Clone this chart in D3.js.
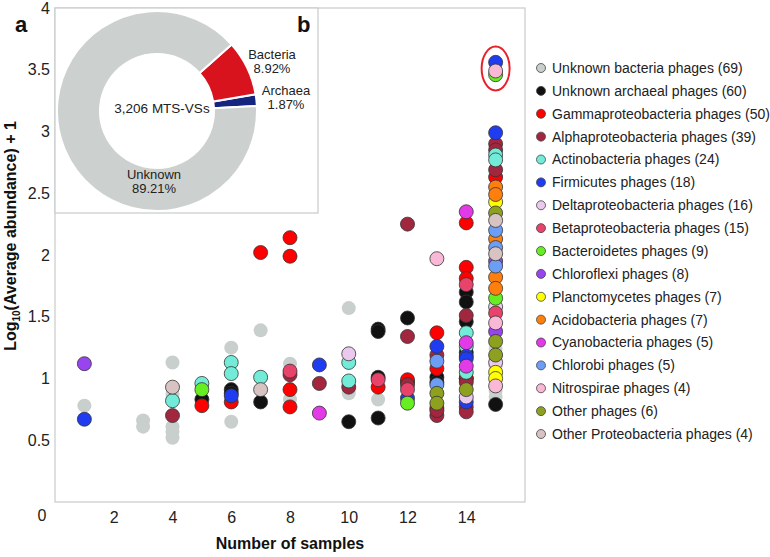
<!DOCTYPE html>
<html><head><meta charset="utf-8">
<script src="https://cdn.jsdelivr.net/npm/d3@7"></script>
<style>
body{margin:0;background:#fff;}
text{font-family:"Liberation Sans",Arial,sans-serif;}
</style></head>
<body><svg id="c" width="770" height="557"></svg>
<script>
// ---------------- data ----------------
const seriesNames = ["Unknown bacteria phages","Unknown archaeal phages","Gammaproteobacteria phages","Alphaproteobacteria phages","Actinobacteria phages","Firmicutes phages","Deltaproteobacteria phages","Betaproteobacteria phages","Bacteroidetes phages","Chloroflexi phages","Planctomycetes phages","Acidobacteria phages","Cyanobacteria phages","Chlorobi phages","Nitrospirae phages","Other phages","Other Proteobacteria phages"];
const seriesCounts = [69,60,50,39,24,18,16,15,9,8,7,7,5,5,4,6,4];
const seriesColors = ["#c9cfcd","#111111","#ff0000","#a3263f","#72ecd8","#1f3cf0","#ebc9ee","#e8436b","#66ee22","#9a44f0","#ffff00","#ff7f0e","#e33ae8","#6d9ef5","#f9b9d6","#8ea020","#d8c3c3"];

const unknownBacteria = [[1,0.78],[3,0.66],[3,0.61],[4,1.13],[4,0.87],[4,0.61],[4,0.57],[4,0.52],[6,1.25],[6,0.65],[7,1.39],[8,1.12],[8,0.83],[10,1.57],[10,0.88],[11,0.83],[12,0.93],[13,0.95],[14,1.05],[15,0.85],[15,0.90],[15,1.10],[15,1.24]];
const unknownArchaeal = [[5,0.83],[6,0.91],[6,0.88],[7,0.81],[10,0.65],[11,1.40],[11,1.38],[11,1.01],[11,0.68],[12,1.49],[12,0.97],[13,1.01],[13,0.97],[14,1.70],[14,1.62],[14,1.46],[14,1.21],[14,1.00],[15,0.79]];
const gammaproteo = [[5,0.78],[6,0.81],[7,2.02],[8,2.14],[8,1.99],[8,0.91],[8,0.77],[11,0.93],[12,0.99],[13,1.37],[13,1.08],[13,0.76],[14,2.26],[14,1.90],[14,1.81],[14,1.00],[15,2.63]];
const alphaproteo = [[4,0.70],[8,1.03],[9,0.96],[10,0.93],[12,2.25],[12,1.34],[12,0.95],[13,1.19],[13,0.70],[13,0.74],[14,1.51],[14,0.97],[14,0.77],[14,0.73],[15,2.90],[15,2.85],[15,2.69]];
const actinobacteria = [[4,0.82],[5,0.96],[6,1.13],[6,1.04],[7,1.01],[10,1.13],[10,0.98],[14,1.37],[14,1.26],[14,1.05],[15,2.81],[15,2.77]];
const firmicutes = [[1,0.67],[6,0.86],[9,1.11],[12,0.84],[13,1.26],[14,1.18],[14,1.16],[14,0.81],[15,2.99],[15,3.56]];
const deltaproteo = [[10,1.20],[14,0.85],[15,1.58],[15,1.13]];
const betaproteo = [[8,1.06],[11,0.99],[12,0.91],[14,1.76],[15,1.53]];
const bacteroidetes = [[5,0.91],[12,0.80],[15,1.65],[15,3.46]];
const chloroflexi = [[1,1.12],[15,1.95],[15,1.38]];
const planctomycetes = [[15,2.43],[15,1.05],[15,1.00]];
const acidobacteria = [[15,2.55],[15,2.49],[15,2.13],[15,1.82],[15,1.73]];
const cyanobacteria = [[9,0.72],[14,2.35],[14,1.29],[14,1.10]];
const chlorobi = [[13,1.14],[13,0.95],[15,2.20],[15,2.06],[15,1.91]];
const nitrospirae = [[13,1.97],[15,1.45],[15,0.94],[15,3.49]];
const otherPhages = [[13,0.88],[13,0.80],[14,0.91],[15,2.34],[15,1.30],[15,1.19]];
const otherProteo = [[4,0.93],[7,0.91],[15,2.28],[15,2.01]];

const seriesPoints = [unknownBacteria,unknownArchaeal,gammaproteo,alphaproteo,actinobacteria,firmicutes,deltaproteo,betaproteo,bacteroidetes,chloroflexi,planctomycetes,acidobacteria,cyanobacteria,chlorobi,nitrospirae,otherPhages,otherProteo];

const xTicks = [2,4,6,8,10,12,14];
const yTicks = [0.5,1,1.5,2,2.5,3,3.5,4];

const donutLabels = ["Archaea","Bacteria","Unknown"];
const donutValues = [1.87,8.92,89.21];
const donutColors = ["#14247f","#d9131e","#ccd1cf"];
const donutCenterLabel = "3,206 MTS-VSs";

// ---------------- chart ----------------
const svg = d3.select("#c");
const x = d3.scaleLinear().domain([0,16]).range([55,525]);
const y = d3.scaleLinear().domain([0,4]).range([502,8]);

// frame
svg.append("rect").attr("x",x(0)).attr("y",y(4)).attr("width",x(16)-x(0)).attr("height",y(0)-y(4))
  .attr("fill","none").attr("stroke","#c8cccc").attr("stroke-width",1.2);

// axes
const yAxis = svg.append("g").attr("transform",`translate(${x(0)},0)`)
  .call(d3.axisLeft(y).tickValues(yTicks).tickSize(0).tickPadding(5).tickFormat(d3.format("")));
const xAxis = svg.append("g").attr("transform",`translate(0,${y(0)})`)
  .call(d3.axisBottom(x).tickValues(xTicks).tickSize(0).tickPadding(10));
[yAxis,xAxis].forEach(a=>{
  a.select(".domain").remove();
  a.selectAll("text").attr("font-size",16).attr("fill","#222").attr("font-family","'Liberation Sans',Arial,sans-serif");
});
svg.append("text").attr("x",x(0)-13).attr("y",y(0)+13).attr("dy","0.35em").attr("text-anchor","middle")
  .attr("font-size",16).attr("fill","#222").text("0");

// axis titles
svg.append("text").attr("x",x(8)).attr("y",549).attr("text-anchor","middle")
  .attr("font-size",16).attr("font-weight","bold").attr("fill","#111").text("Number of samples");
const yt = svg.append("text").attr("transform","translate(16,236) rotate(-90)").attr("text-anchor","middle")
  .attr("font-size",16).attr("font-weight","bold").attr("fill","#111");
yt.append("tspan").text("Log");
yt.append("tspan").attr("font-size",10).attr("dy",4).text("10");
yt.append("tspan").attr("dy",-4).text("(Average abundance) + 1");

// points
seriesPoints.forEach((pts,i)=>{
  svg.append("g").selectAll("circle").data(pts).join("circle")
    .attr("cx",d=>x(d[0])).attr("cy",d=>y(d[1])).attr("r",7)
    .attr("fill",seriesColors[i])
    .attr("stroke", i===0 ? "none" : "#333")
    .attr("stroke-width",0.8);
});

// highlight ellipse
svg.append("ellipse").attr("cx",x(15)).attr("cy",y(3.51)).attr("rx",14).attr("ry",22)
  .attr("fill","none").attr("stroke","#e8202a").attr("stroke-width",2);

// inset donut
svg.append("rect").attr("x",x(0)).attr("y",y(4)).attr("width",263).attr("height",205)
  .attr("fill","#fff").attr("stroke","#c8cccc").attr("stroke-width",1.2);
const cx = 157, cy = 111;
const pie = d3.pie().sort(null).startAngle(Math.PI/2-0.05).endAngle(Math.PI/2-0.05-2*Math.PI);
const arc = d3.arc().innerRadius(57).outerRadius(100);
const dg = svg.append("g").attr("transform",`translate(${cx},${cy})`);
dg.selectAll("path").data(pie(donutValues)).join("path")
  .attr("d",arc).attr("fill",(d,i)=>donutColors[i]).attr("stroke","#fff").attr("stroke-width",2);
svg.append("text").attr("x",162).attr("y",108).attr("dy","0.35em").attr("text-anchor","middle")
  .attr("font-size",13.5).attr("fill","#222").text(donutCenterLabel);
const dlab = [[286,90,104],[272,54,68],[154,174,188]];
donutLabels.forEach((l,i)=>{
  svg.append("text").attr("x",dlab[i][0]).attr("y",dlab[i][1]).attr("dy","0.35em").attr("text-anchor","middle")
    .attr("font-size",13).attr("fill","#222").text(l);
  svg.append("text").attr("x",dlab[i][0]).attr("y",dlab[i][2]).attr("dy","0.35em").attr("text-anchor","middle")
    .attr("font-size",13).attr("fill","#222").text(donutValues[i].toFixed(2)+"%");
});

// panel letters
svg.append("text").attr("x",15).attr("y",32).attr("font-size",22).attr("font-weight","bold").attr("fill","#111").text("a");
svg.append("text").attr("x",297).attr("y",32).attr("font-size",22).attr("font-weight","bold").attr("fill","#111").text("b");

// legend
const lg = svg.append("g");
const ly = d3.scaleLinear().domain([0,16]).range([68,434]);
seriesNames.forEach((n,i)=>{
  lg.append("circle").attr("cx",541).attr("cy",ly(i)).attr("r",4.5)
    .attr("fill",seriesColors[i]).attr("stroke","#444").attr("stroke-width",0.8);
  lg.append("text").attr("x",552).attr("y",ly(i)).attr("dy","0.35em")
    .attr("font-size",14).attr("fill","#222").text(`${n} (${seriesCounts[i]})`);
});
</script></body></html>
